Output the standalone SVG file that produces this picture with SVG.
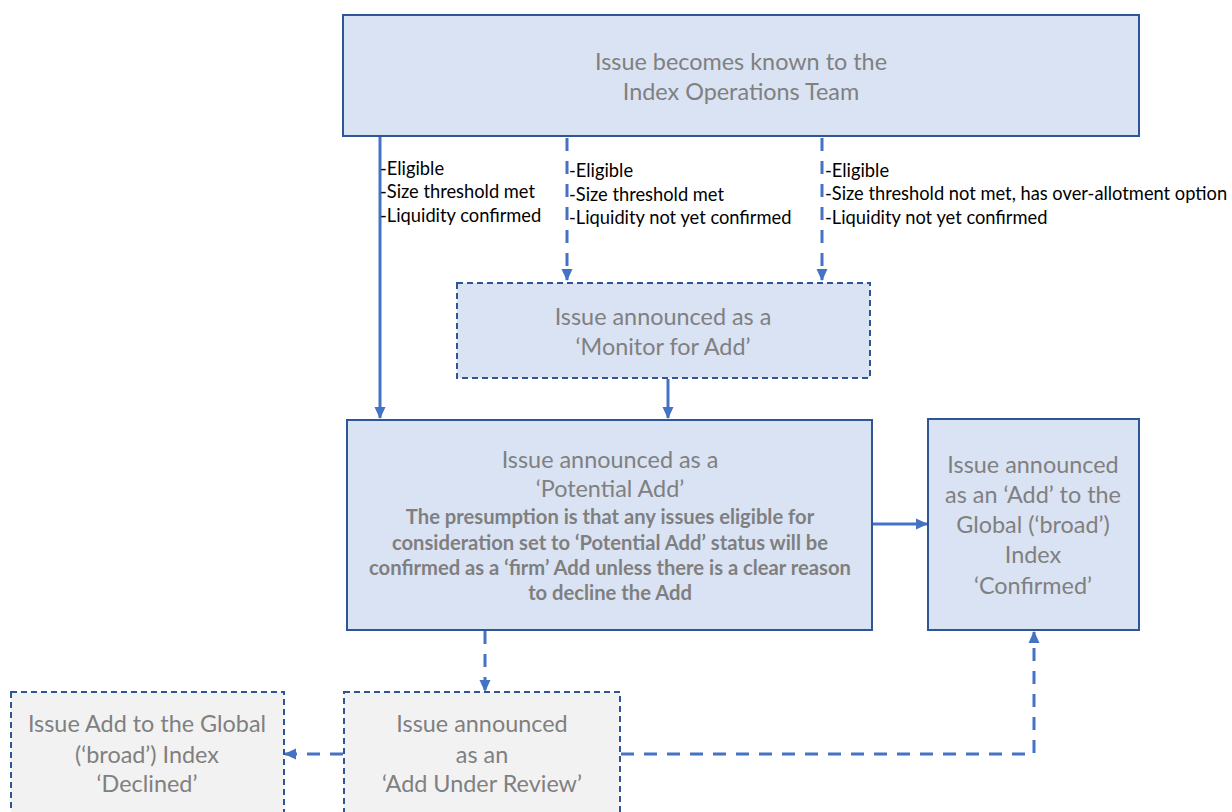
<svg xmlns="http://www.w3.org/2000/svg" width="1232" height="812" viewBox="0 0 1232 812">
<style>
.box{fill:#dae3f3;stroke:#2f5597;stroke-width:2}
.boxd{fill:#dae3f3;stroke:#2f5597;stroke-width:2;stroke-dasharray:6 4}
.gbox{fill:#f2f2f2;stroke:#2f5597;stroke-width:2;stroke-dasharray:6 4}
.t{font-family:Lato,"Liberation Sans",sans-serif;font-size:23.4px;fill:#808080;text-anchor:middle}
.b{font-family:Lato,"Liberation Sans",sans-serif;font-size:20.2px;font-weight:bold;fill:#7f7f7f;text-anchor:middle}
.l{font-family:Lato,"Liberation Sans",sans-serif;font-size:18.3px;fill:#000}
.c{fill:none;stroke:#4472c4;stroke-width:3}
.cd{fill:none;stroke:#4472c4;stroke-width:3;stroke-dasharray:13 10}
</style>
<defs>
<marker id="ah" markerWidth="12" markerHeight="12" refX="11" refY="6" orient="auto" markerUnits="userSpaceOnUse" viewBox="0 0 12 12">
<path d="M0,0.5 L12,6 L0,11.5 z" fill="#4472c4"/>
</marker>
</defs>
<g id="connectors">
<path class="c" d="M380,136 V418" marker-end="url(#ah)"/>
<path class="cd" d="M567,138 V280" marker-end="url(#ah)"/>
<path class="cd" d="M822,138 V280" marker-end="url(#ah)"/>
<path class="c" d="M668,379 V418" marker-end="url(#ah)"/>
<path class="c" d="M873,524 H927" marker-end="url(#ah)"/>
<path class="cd" d="M485,631 V691" marker-end="url(#ah)"/>
<path class="cd" d="M343,754 H285" marker-end="url(#ah)"/>
<path class="cd" d="M621,754 H1034 V632" marker-end="url(#ah)"/>
</g>
<g id="labels">
<text class="l" x="380" y="175">-Eligible</text>
<text class="l" x="380" y="198">-Size threshold met</text>
<text class="l" x="380" y="222">-Liquidity confirmed</text>
<text class="l" x="569" y="177">-Eligible</text>
<text class="l" x="569" y="201">-Size threshold met</text>
<text class="l" x="569" y="224">-Liquidity not yet confirmed</text>
<text class="l" x="825" y="177">-Eligible</text>
<text class="l" x="825" y="200">-Size threshold not met, has over-allotment option</text>
<text class="l" x="825" y="224">-Liquidity not yet confirmed</text>
</g>
<g id="known">
<rect class="box" x="343" y="15" width="796" height="121"/>
<text class="t" x="741" y="70">Issue becomes known to the</text>
<text class="t" x="741" y="100">Index Operations Team</text>
</g>
<g id="monitor">
<rect class="boxd" x="457" y="283" width="413" height="95"/>
<text class="t" x="663" y="325">Issue announced as a</text>
<text class="t" x="663" y="355">‘Monitor for Add’</text>
</g>
<g id="potential">
<rect class="box" x="347" y="420" width="525" height="210"/>
<text class="t" x="610" y="468">Issue announced as a</text>
<text class="t" x="610" y="497">‘Potential Add’</text>
<text class="b" x="610" y="524">The presumption is that any issues eligible for</text>
<text class="b" x="610" y="550">consideration set to ‘Potential Add’ status will be</text>
<text class="b" x="610" y="575">confirmed as a ‘firm’ Add unless there is a clear reason</text>
<text class="b" x="610" y="600">to decline the Add</text>
</g>
<g id="confirmed">
<rect class="box" x="928" y="419" width="211" height="211"/>
<text class="t" x="1033" y="473">Issue announced</text>
<text class="t" x="1033" y="503">as an ‘Add’ to the</text>
<text class="t" x="1033" y="533">Global (‘broad’)</text>
<text class="t" x="1033" y="563">Index</text>
<text class="t" x="1033" y="594">‘Confirmed’</text>
</g>
<g id="review">
<rect class="gbox" x="344" y="692" width="276" height="130"/>
<text class="t" x="482" y="732">Issue announced</text>
<text class="t" x="482" y="763">as an</text>
<text class="t" x="482" y="792">‘Add Under Review’</text>
</g>
<g id="declined">
<rect class="gbox" x="11" y="692" width="273" height="130"/>
<text class="t" x="147" y="732">Issue Add to the Global</text>
<text class="t" x="147" y="763">(‘broad’) Index</text>
<text class="t" x="147" y="792">‘Declined’</text>
</g>
</svg>
